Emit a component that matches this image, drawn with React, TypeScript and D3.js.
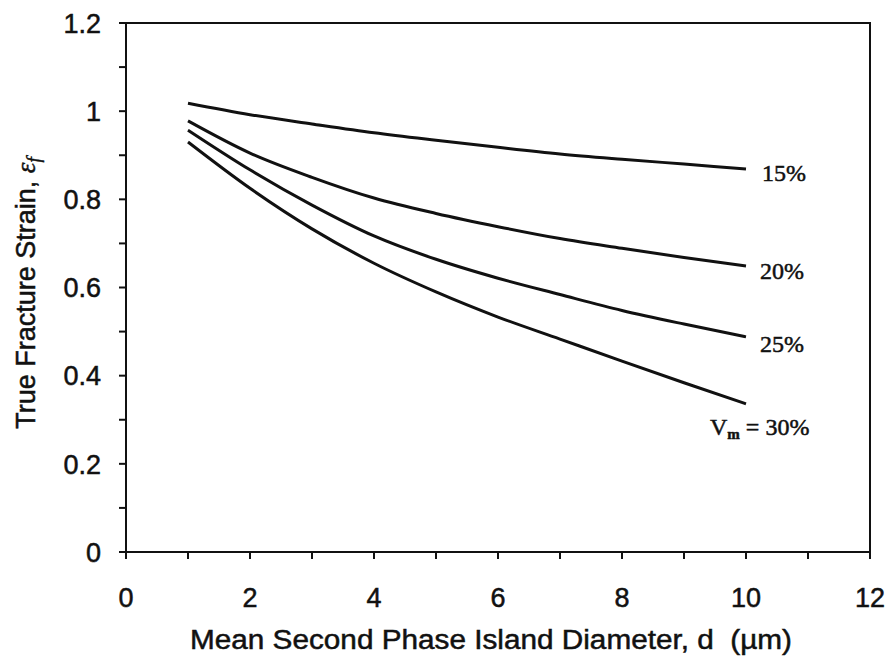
import React from "react";
import * as d3 from "d3";

const diameters = [1, 2, 3, 4, 5, 6, 7, 8, 9, 10];
const strain15 = [1.018, 0.992, 0.971, 0.951, 0.934, 0.918, 0.903, 0.891, 0.88, 0.869];
const strain20 = [0.978, 0.905, 0.85, 0.803, 0.768, 0.738, 0.711, 0.689, 0.668, 0.649];
const strain25 = [0.957, 0.867, 0.787, 0.717, 0.664, 0.621, 0.584, 0.548, 0.517, 0.488];
const strain30 = [0.93, 0.825, 0.733, 0.655, 0.59, 0.533, 0.483, 0.433, 0.384, 0.336];
const seriesLabels = ["15%", "20%", "25%", "30%"];
const xTickLabels = [0, 2, 4, 6, 8, 10, 12];
const yTickLabels = [0, 0.2, 0.4, 0.6, 0.8, 1, 1.2];

const W = 890;
const H = 658;
const left = 126;
const right = 870;
const top = 23;
const bottom = 552;

export default function App() {
  const x = d3.scaleLinear().domain([0, 12]).range([left, right]);
  const y = d3.scaleLinear().domain([0, 1.2]).range([bottom, top]);
  const line = d3
    .line<[number, number]>()
    .x((d) => x(d[0]))
    .y((d) => y(d[1]))
    .curve(d3.curveMonotoneX);

  const series = [strain15, strain20, strain25, strain30];
  const yMinor = d3.range(0, 13).map((i) => i / 10);
  const xMinor = d3.range(0, 13);

  const sans = "'Liberation Sans', Arial, sans-serif";
  const serif = "'Liberation Serif', 'Times New Roman', serif";
  const ink = "#111";
  const thicken = { stroke: ink, strokeWidth: 0.5 };

  return (
    <svg
      width={W}
      height={H}
      style={{ position: "absolute", left: 0, top: 0, background: "#fff" }}
    >
      <rect x={0} y={0} width={W} height={H} fill="#fff" />
      {/* frame */}
      <rect
        x={left}
        y={top}
        width={right - left}
        height={bottom - top}
        fill="none"
        stroke={ink}
        strokeWidth={2}
      />
      {/* y ticks */}
      {yMinor.map((v) => (
        <line
          key={"yt" + v}
          x1={left - 7}
          x2={left}
          y1={y(v)}
          y2={y(v)}
          stroke={ink}
          strokeWidth={2}
        />
      ))}
      {/* x ticks */}
      {xMinor.map((v) => (
        <line
          key={"xt" + v}
          x1={x(v)}
          x2={x(v)}
          y1={bottom}
          y2={bottom + 7}
          stroke={ink}
          strokeWidth={2}
        />
      ))}
      {/* y tick labels */}
      {yTickLabels.map((v) => (
        <text
          key={"yl" + v}
          x={101}
          y={y(v)}
          dy="0.36em"
          textAnchor="end"
          fontFamily={sans}
          fontSize={27}
          fill={ink}
          {...thicken}
        >
          {String(v)}
        </text>
      ))}
      {/* x tick labels */}
      {xTickLabels.map((v) => (
        <text
          key={"xl" + v}
          x={x(v)}
          y={607}
          textAnchor="middle"
          fontFamily={sans}
          fontSize={27}
          fill={ink}
          {...thicken}
        >
          {String(v)}
        </text>
      ))}
      {/* curves */}
      {series.map((s, i) => (
        <path
          key={"s" + i}
          d={line(diameters.map((d, j) => [d, s[j]] as [number, number])) || ""}
          fill="none"
          stroke={ink}
          strokeWidth={3}
        />
      ))}
      {/* series labels */}
      <text x={762} y={181} fontFamily={serif} fontSize={24} fill={ink} {...thicken}>
        {seriesLabels[0]}
      </text>
      <text x={760} y={279} fontFamily={serif} fontSize={24} fill={ink} {...thicken}>
        {seriesLabels[1]}
      </text>
      <text x={760} y={352} fontFamily={serif} fontSize={24} fill={ink} {...thicken}>
        {seriesLabels[2]}
      </text>
      <text x={710} y={435} fontFamily={serif} fontSize={24} fill={ink} {...thicken}>
        V
        <tspan fontSize={15} fontWeight="bold" dy={4}>m</tspan>
        <tspan dy={-4}>{" = " + seriesLabels[3]}</tspan>
      </text>
      {/* x axis title */}
      <text
        x={190}
        y={649}
        textAnchor="start"
        fontFamily={sans}
        fontSize={27}
        fill={ink}
        textLength={602}
        lengthAdjust="spacingAndGlyphs"
        style={{ whiteSpace: "pre" }}
        {...thicken}
      >
        {"Mean Second Phase Island Diameter, d\u00a0 (µm)"}
      </text>
      {/* y axis title */}
      <text
        transform={`translate(35, 293) rotate(-90)`}
        textAnchor="middle"
        fontFamily={sans}
        fontSize={27}
        fill={ink}
        {...thicken}
      >
        True Fracture Strain,{" "}
        <tspan fontFamily={serif} fontStyle="italic">ε</tspan>
        <tspan fontFamily={serif} fontStyle="italic" fontSize={19} dy={5}>f</tspan>
      </text>
    </svg>
  );
}
